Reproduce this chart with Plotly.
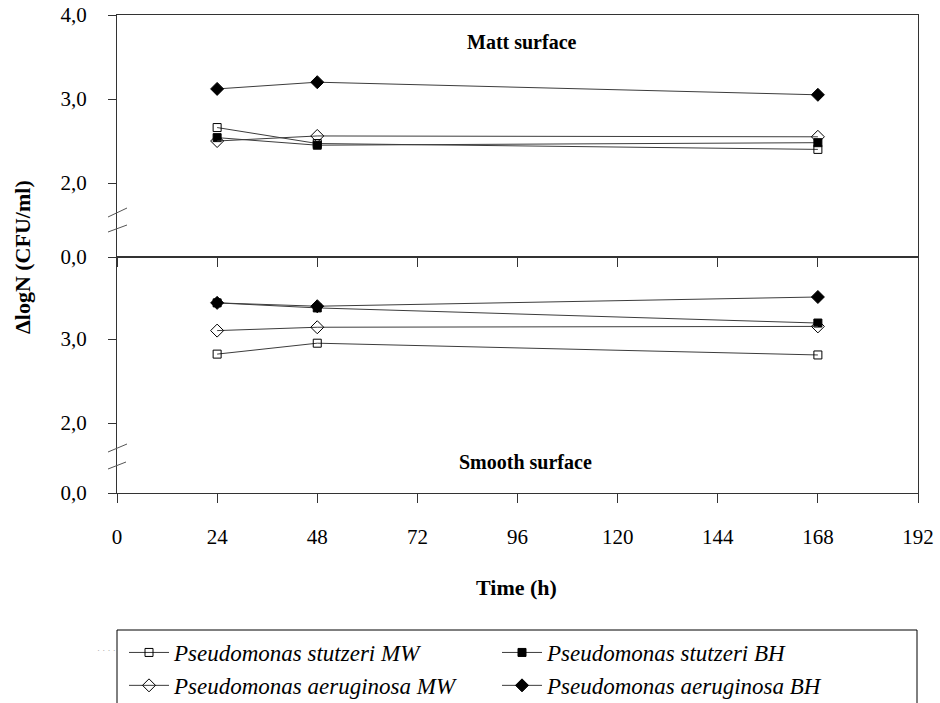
import plotly.graph_objects as go

# ---- data ----
time_h = [24, 48, 168]
series_names = ["Pseudomonas stutzeri MW", "Pseudomonas stutzeri BH",
                "Pseudomonas aeruginosa MW", "Pseudomonas aeruginosa BH"]
# Matt surface (top panel)
matt_stutzeri_mw = [2.66, 2.47, 2.40]
matt_stutzeri_bh = [2.54, 2.45, 2.48]
matt_aeruginosa_mw = [2.50, 2.56, 2.55]
matt_aeruginosa_bh = [3.12, 3.20, 3.05]
# Smooth surface (bottom panel)
smooth_stutzeri_mw = [2.82, 2.95, 2.81]
smooth_stutzeri_bh = [3.43, 3.37, 3.19]
smooth_aeruginosa_mw = [3.10, 3.14, 3.15]
smooth_aeruginosa_bh = [3.43, 3.39, 3.50]

x_ticks = [0, 24, 48, 72, 96, 120, 144, 168, 192]
top_ytick_vals = [1.119, 2, 3, 4]
top_ytick_text = ["0,0", "2,0", "3,0", "4,0"]
bot_ytick_vals = [1.167, 2, 3]
bot_ytick_text = ["0,0", "2,0", "3,0"]

# ---- styles ----
FONT = "Liberation Serif"
LINE_C = "#3c3c3c"
styles = [
    dict(symbol="square-open", size=8, color="black"),
    dict(symbol="square", size=8, color="black"),
    dict(symbol="diamond-open", size=10, color="black"),
    dict(symbol="diamond", size=10, color="black"),
]

W, H = 940, 703
L, R, T, B = 117, 22, 15, 210
PW, PH = W - L - R, H - T - B


def px_x(px):
    return (px - L) / PW


def px_y(py):
    return (H - B - py) / PH


fig = go.Figure()
top_sets = [matt_stutzeri_mw, matt_stutzeri_bh, matt_aeruginosa_mw, matt_aeruginosa_bh]
bot_sets = [smooth_stutzeri_mw, smooth_stutzeri_bh, smooth_aeruginosa_mw, smooth_aeruginosa_bh]
for name, ys, st in zip(series_names, top_sets, styles):
    fig.add_trace(go.Scatter(
        x=time_h, y=ys, name=name, mode="lines+markers",
        line=dict(color=LINE_C, width=1),
        marker=dict(symbol=st["symbol"], size=st["size"], color=st["color"],
                    line=dict(color="black", width=1)),
        xaxis="x", yaxis="y", showlegend=True))
for name, ys, st in zip(series_names, bot_sets, styles):
    fig.add_trace(go.Scatter(
        x=time_h, y=ys, name=name, mode="lines+markers",
        line=dict(color=LINE_C, width=1),
        marker=dict(symbol=st["symbol"], size=st["size"], color=st["color"],
                    line=dict(color="black", width=1)),
        xaxis="x2", yaxis="y2", showlegend=False))

split = (H - B - 257) / PH
axis_common = dict(showline=True, linecolor="#333", linewidth=1, mirror=True,
                   showgrid=False, zeroline=False, ticks="outside",
                   tickcolor="#333", tickwidth=1, automargin=False)

fig.update_layout(
    width=W, height=H,
    margin=dict(l=L, r=R, t=T, b=B, autoexpand=False),
    paper_bgcolor="white", plot_bgcolor="white",
    font=dict(family=FONT, size=20, color="black"),
    xaxis=dict(domain=[0, 1], anchor="y", range=[0, 192], tickvals=x_ticks,
               showticklabels=False, ticklen=9, **axis_common),
    yaxis=dict(domain=[split, 1], anchor="x", range=[1.119, 4.0],
               tickvals=top_ytick_vals, ticktext=top_ytick_text, ticklen=8,
               ticklabelstandoff=17, tickfont=dict(size=21), **axis_common),
    xaxis2=dict(domain=[0, 1], anchor="y2", range=[0, 192], tickvals=x_ticks,
                ticktext=[str(v) for v in x_ticks], ticklen=9,
                ticklabelstandoff=16, tickfont=dict(size=21), **axis_common),
    yaxis2=dict(domain=[0, split], anchor="x2", range=[1.167, 3.976],
                tickvals=bot_ytick_vals, ticktext=bot_ytick_text, ticklen=8,
                ticklabelstandoff=17, tickfont=dict(size=21), **axis_common),
    legend=dict(orientation="h", x=px_x(124), xanchor="left", y=px_y(631), yanchor="top",
                entrywidth=318, entrywidthmode="pixels",
                borderwidth=0, bgcolor="rgba(0,0,0,0)",
                font=dict(family=FONT, size=23, style="italic"),
                itemwidth=40, tracegroupgap=0),
    showlegend=True,
)

# legend frame
fig.add_shape(type="rect", xref="paper", yref="paper",
              x0=px_x(117), x1=px_x(917), y0=px_y(706), y1=px_y(630),
              line=dict(color="black", width=1), fillcolor="rgba(0,0,0,0)")

# axis break marks
for (x0, y0, x1, y1) in [(108, 217, 127, 208), (108, 232, 127, 225),
                         (108, 452, 127, 444), (108, 469, 126, 462)]:
    fig.add_shape(type="line", xref="paper", yref="paper",
                  x0=px_x(x0), y0=px_y(y0), x1=px_x(x1), y1=px_y(y1),
                  line=dict(color="#555", width=1))

# annotations
ann_common = dict(xref="paper", yref="paper", showarrow=False,
                  xanchor="center", yanchor="middle")
fig.add_annotation(text="<b>Matt surface</b>", x=px_x(522), y=px_y(42),
                   font=dict(family=FONT, size=20), **ann_common)
fig.add_annotation(text="<b>Smooth surface</b>", x=px_x(525), y=px_y(462),
                   font=dict(family=FONT, size=20), **ann_common)
fig.add_annotation(text="<b>ΔlogN (CFU/ml)</b>", x=px_x(22), y=px_y(257),
                   textangle=-90, font=dict(family=FONT, size=22), **ann_common)
fig.add_annotation(text="<b>Time (h)</b>", x=px_x(516), y=px_y(587),
                   font=dict(family=FONT, size=22), **ann_common)
fig.add_annotation(text="· · · ·", x=px_x(106), y=px_y(650),
                   font=dict(family=FONT, size=9, color="#999"), **ann_common)

fig.write_html("out.html")
